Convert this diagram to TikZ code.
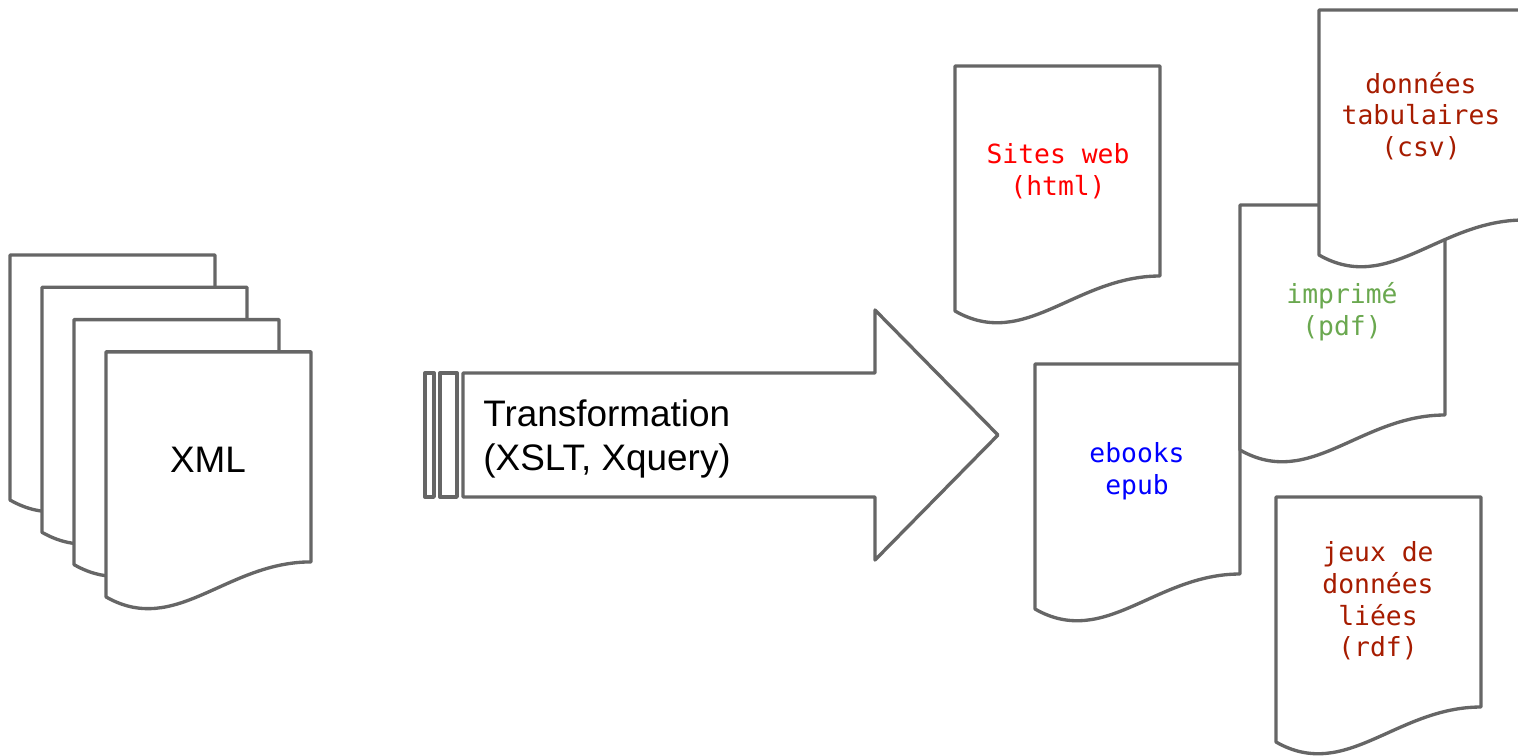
\documentclass[tikz,border=0pt]{standalone}
\usepackage{fontspec}
\setmainfont{Liberation Sans}
\setmonofont{DejaVu Sans Mono}
\definecolor{edge}{HTML}{666666}
\definecolor{rust}{HTML}{A61C00}
\definecolor{leaf}{HTML}{6AA84F}
\tikzset{
  docline/.style={draw=edge,fill=white,line width=1.9pt,line join=round},
  doc/.pic={
    \path [docline] (0,0) -- (205,0) -- (205,210)
      .. controls (120,210) and (70,285) .. (0,245) -- cycle;
  },
  doctext/.style={font=\ttfamily\fontsize{15}{18.1}\selectfont,align=center},
  bigtext/.style={font=\fontsize{21}{25}\selectfont}
}
\begin{document}
\begin{tikzpicture}[x=0.02cm,y=-0.02cm]
  \useasboundingbox (0,0) rectangle (1518,755);
  % source files
  \foreach \i in {0,...,3}
    \pic at ({10+32*\i},{255+32.3*\i}) {doc};
  \node (xml) at (208,460) [bigtext] {XML};
  % transformation arrow
  \path [docline] (463,373) -- (875,373) -- (875,310) -- (998,435)
    -- (875,560) -- (875,497) -- (463,497) -- cycle;
  \path [docline] (425,373) rectangle (434,497);
  \path [docline] (440,373) rectangle (457,497);
  \node (trans) at (483,439) [bigtext,anchor=west,align=left,inner sep=0pt]
    {Transformation\\(XSLT, Xquery)};
  % outputs
  \pic at (1035,364) {doc};
  \pic at (1240,205) {doc};
  \pic at (1319,10)  {doc};
  \pic at (955,66)   {doc};
  \pic at (1276,497) {doc};
  \node (web)   at (1058,171) [doctext,red]  {Sites web\\(html)};
  \node (csv)   at (1421,116) [doctext,rust] {données\\tabulaires\\(csv)};
  \node (pdf)   at (1342,312) [doctext,leaf] {imprimé\\(pdf)};
  \node (epub)  at (1137,471) [doctext,blue] {ebooks\\epub};
  \node (rdf)   at (1378,601) [doctext,rust] {jeux de\\données\\liées\\(rdf)};
\end{tikzpicture}
\end{document}
